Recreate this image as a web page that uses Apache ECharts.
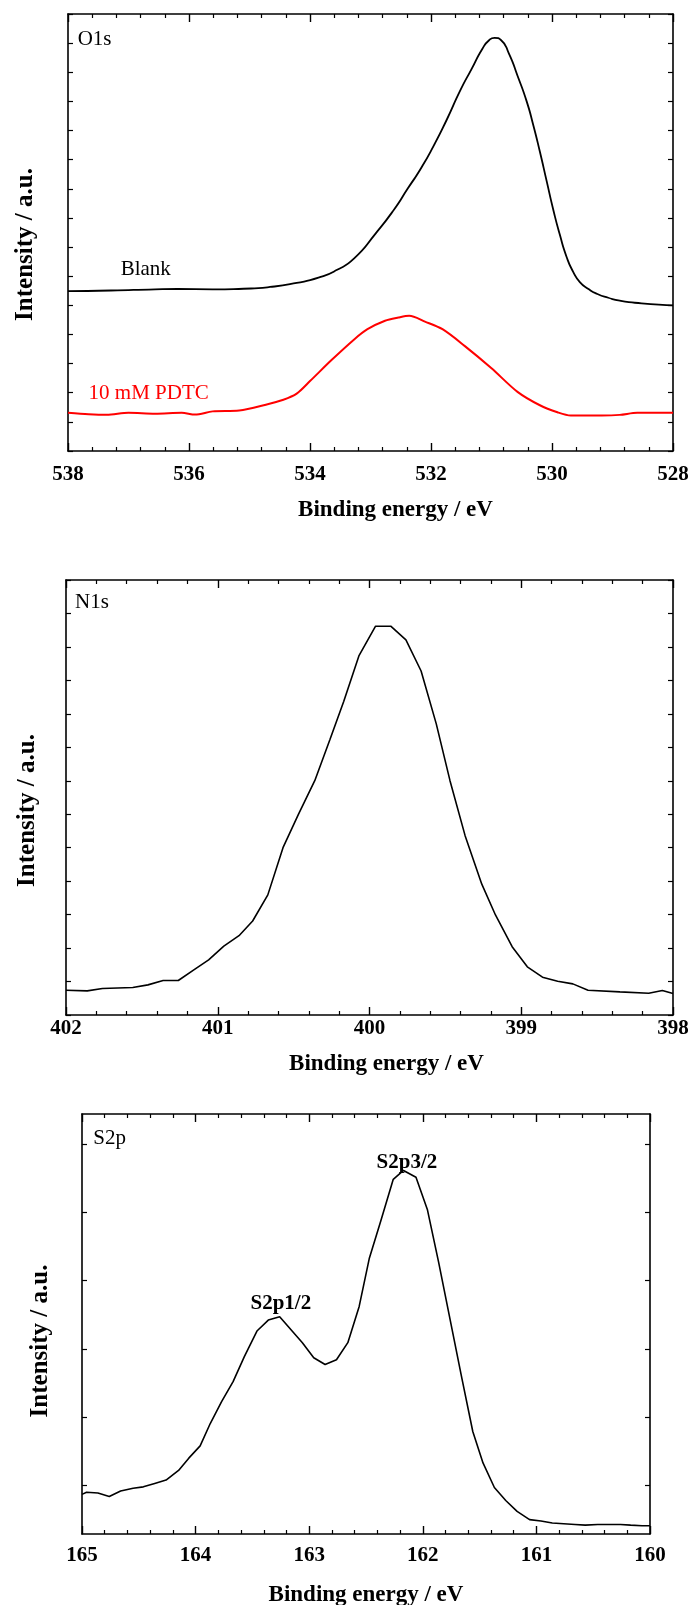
<!DOCTYPE html>
<html>
<head>
<meta charset="utf-8">
<script src="https://cdn.jsdelivr.net/npm/echarts@6/dist/echarts.min.js"></script>
<style>
  html, body { margin: 0; padding: 0; background: #fff; }
  #chart { width: 694px; height: 1605px; }
</style>
</head>
<body>
<div id="chart"></div>
<script>
// ---------- O1s panel ----------
var o1sBlankEnergy = [538.00,537.29,536.56,536.19,535.61,535.10,534.66,534.22,533.86,533.56,533.27,532.91,532.61,532.39,532.17,531.95,531.74,531.52,531.33,531.15,531.04,530.95,530.84,530.71,530.57,530.42,530.31,530.20,530.09,529.98,529.87,529.76,529.65,529.54,529.39,529.25,529.07,528.88,528.52,528.00];
var o1sBlankIntensity = [5.49,5.51,5.55,5.56,5.55,5.57,5.63,5.77,5.95,6.21,6.61,7.48,8.29,8.99,9.69,10.50,11.37,12.36,13.11,13.81,14.10,14.18,14.10,13.63,12.88,12.01,11.19,10.27,9.28,8.29,7.42,6.67,6.15,5.80,5.55,5.39,5.26,5.16,5.07,5.00];
var o1sPdtcEnergy = [538.00,537.66,537.36,537.00,536.56,536.12,535.90,535.61,535.17,534.73,534.44,534.22,534.00,533.64,533.27,533.05,532.76,532.54,532.36,532.10,531.81,531.44,531.00,530.57,530.20,529.91,529.69,529.40,529.18,528.88,528.59,528.00];
var o1sPdtcIntensity = [1.31,1.26,1.24,1.31,1.28,1.31,1.25,1.36,1.39,1.59,1.76,1.97,2.40,3.13,3.83,4.18,4.47,4.58,4.64,4.44,4.18,3.60,2.84,2.03,1.57,1.33,1.22,1.22,1.22,1.24,1.31,1.31];

// ---------- N1s panel ----------
var n1sEnergy = [402.00,401.86,401.76,401.56,401.46,401.36,401.26,401.16,401.06,400.96,400.86,400.77,400.67,400.57,400.47,400.36,400.26,400.17,400.07,399.96,399.86,399.76,399.66,399.56,399.47,399.37,399.26,399.17,399.06,398.96,398.86,398.76,398.66,398.56,398.35,398.16,398.07,398.00];
var n1sIntensity = [0.74,0.72,0.79,0.82,0.90,1.03,1.03,1.34,1.65,2.06,2.37,2.81,3.59,5.00,5.98,7.01,8.24,9.37,10.73,11.62,11.62,11.21,10.28,8.70,7.01,5.36,3.91,2.99,2.04,1.44,1.13,1.01,0.93,0.74,0.69,0.65,0.73,0.64];

// ---------- S2p panel ----------
var s2pEnergy = [165.00,164.96,164.86,164.76,164.66,164.55,164.46,164.36,164.26,164.15,164.06,163.96,163.87,163.77,163.67,163.57,163.46,163.36,163.26,163.16,163.06,162.96,162.86,162.76,162.66,162.56,162.47,162.37,162.26,162.17,162.06,161.96,161.86,161.76,161.66,161.56,161.47,161.37,161.27,161.17,161.06,160.96,160.86,160.76,160.66,160.57,160.46,160.26,160.17,160.07,160.00];
var s2pIntensity = [0.58,0.61,0.60,0.55,0.63,0.67,0.69,0.74,0.79,0.93,1.11,1.29,1.62,1.94,2.23,2.60,2.97,3.13,3.18,2.99,2.80,2.58,2.48,2.55,2.80,3.33,4.04,4.58,5.19,5.32,5.22,4.75,3.97,3.14,2.31,1.50,1.04,0.68,0.49,0.33,0.21,0.19,0.16,0.15,0.14,0.13,0.14,0.14,0.13,0.12,0.12];
var s2pTickValues = [0.707,1.707,2.707,3.707,4.707,5.707];

// ---------- text labels [energy, intensity, text] ----------
var o1sLabels = [[537.84,14.13,'O1s'],[537.13,6.22,'Blank']];
var o1sRedLabels = [[537.66,1.97,'10 mM PDTC']];
var n1sLabels = [[401.94,12.33,'N1s']];
var s2pLabels = [[164.90,5.79,'S2p']];
var s2pPeakLabels = [[163.25,3.37,'S2p1/2'],[162.14,5.44,'S2p3/2']];

function zip(xs, ys) { return xs.map(function (x, i) { return [x, ys[i]]; }); }

var FONT = 'Liberation Serif';
var lineCol = '#000';

function xAxes(gi, min, max, interval, split, nameGap, margin, shift) {
  var base = {
    type: 'value', gridIndex: gi, min: min, max: max, interval: interval, inverse: true,
    axisLine: { onZero: false, lineStyle: { color: lineCol, width: 1.6 } },
    axisTick: { show: true, inside: true, length: 8, lineStyle: { color: lineCol, width: 1.4 } },
    minorTick: { show: true, splitNumber: split, length: 4, lineStyle: { color: lineCol, width: 1.2 } },
    splitLine: { show: false }, minorSplitLine: { show: false }
  };
  var bottom = Object.assign({}, base, {
    position: 'bottom',
    axisLabel: { show: true, fontFamily: FONT, fontWeight: 'bold', fontSize: 21, color: '#000', margin: margin, showMinLabel: true, showMaxLabel: true },
    name: 'Binding energy / eV', nameLocation: 'middle', nameGap: nameGap,
    nameTextStyle: { fontFamily: FONT, fontWeight: 'bold', fontSize: 23, color: '#000', padding: [0, 0, 0, shift] }
  });
  var top = Object.assign({}, base, { position: 'top', axisLabel: { show: false } });
  return [bottom, top];
}

function yAxes(gi, min, max, interval, nameGap, pad, custom) {
  var tick = { show: true, inside: true, length: 5, lineStyle: { color: lineCol, width: 1.2 } };
  if (custom) tick.customValues = custom;
  var base = {
    type: 'value', gridIndex: gi, min: min, max: max,
    axisLine: { show: true, onZero: false, lineStyle: { color: lineCol, width: 1.6 } },
    axisTick: tick,
    axisLabel: { show: false },
    splitLine: { show: false }
  };
  if (interval) base.interval = interval;
  var left = Object.assign({}, base, {
    position: 'left',
    name: 'Intensity / a.u.', nameLocation: 'middle', nameGap: nameGap, nameRotate: 90,
    nameTextStyle: { fontFamily: FONT, fontWeight: 'bold', fontSize: 25, color: '#000', padding: [0, pad, 0, 0] }
  });
  var right = Object.assign({}, base, { position: 'right' });
  return [left, right];
}

function textSeries(xi, yi, data, color, pos, weight) {
  return {
    type: 'scatter', xAxisIndex: xi, yAxisIndex: yi, data: data,
    symbolSize: 0, silent: true,
    itemStyle: { opacity: 1 },
    label: {
      show: true, position: pos, distance: 0, opacity: 1,
      formatter: function (p) { return p.data[2]; },
      fontFamily: FONT, fontSize: 21, fontWeight: weight || 'normal', color: color
    }
  };
}

var xs = [].concat(xAxes(0, 528, 538, 2, 5, 48, 13, 50), xAxes(1, 398, 402, 1, 5, 38, 3, 34), xAxes(2, 160, 165, 1, 5, 50, 11, 0));
var ys = [].concat(yAxes(0, 0, 15, 1, 30, 24), yAxes(1, 0, 13, 1, 26, 26), yAxes(2, 0, 6.146, null, 29, 34, s2pTickValues));

var option = {
  animation: false,
  backgroundColor: '#fff',
  grid: [
    { left: 68, top: 14, width: 605, height: 437, containLabel: false, outerBoundsMode: 'none' },
    { left: 66, top: 580, width: 607, height: 435, containLabel: false, outerBoundsMode: 'none' },
    { left: 82, top: 1114, width: 568, height: 420, containLabel: false, outerBoundsMode: 'none' }
  ],
  xAxis: xs,
  yAxis: ys,
  series: [
    { type: 'line', xAxisIndex: 0, yAxisIndex: 0, data: zip(o1sBlankEnergy, o1sBlankIntensity), smooth: 0.6, showSymbol: false, lineStyle: { color: '#000', width: 1.8 } },
    { type: 'line', xAxisIndex: 0, yAxisIndex: 0, data: zip(o1sPdtcEnergy, o1sPdtcIntensity), smooth: 0.3, showSymbol: false, lineStyle: { color: '#ff0000', width: 2 } },
    { type: 'line', xAxisIndex: 2, yAxisIndex: 2, data: zip(n1sEnergy, n1sIntensity), showSymbol: false, lineStyle: { color: '#000', width: 1.6 } },
    { type: 'line', xAxisIndex: 4, yAxisIndex: 4, data: zip(s2pEnergy, s2pIntensity), showSymbol: false, lineStyle: { color: '#000', width: 1.6 } },
    textSeries(0, 0, o1sLabels, '#000', 'right'),
    textSeries(0, 0, o1sRedLabels, '#ff0000', 'right'),
    textSeries(2, 2, n1sLabels, '#000', 'right'),
    textSeries(4, 4, s2pLabels, '#000', 'right'),
    textSeries(4, 4, s2pPeakLabels, '#000', 'inside', 'bold')
  ]
};

var chart = echarts.init(document.getElementById('chart'), null, { renderer: 'canvas' });
chart.setOption(option);
</script>
</body>
</html>
